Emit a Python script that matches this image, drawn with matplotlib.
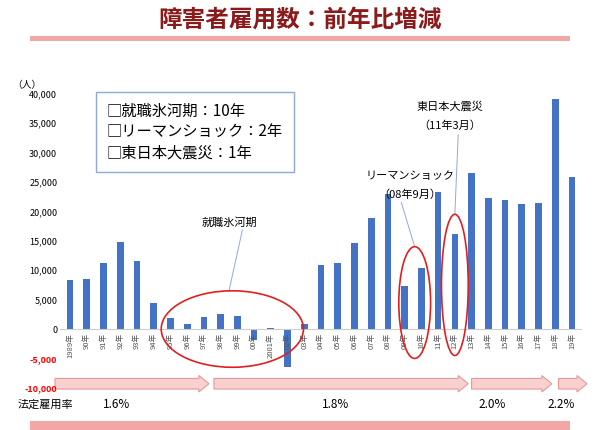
import matplotlib.pyplot as plt
from matplotlib.patches import Ellipse, FancyArrow, Rectangle

plt.rcParams['font.family'] = 'Noto Sans CJK JP'

years = ['1989年', '90年', '91年', '92年', '93年', '94年', '95年', '96年', '97年', '98年',
         '99年', '00年', '2001年', '02年', '03年', '04年', '05年', '06年', '07年', '08年',
         '09年', '10年', '11年', '12年', '13年', '14年', '15年', '16年', '17年', '18年', '19年']
change = [8300, 8500, 11300, 14800, 11500, 4500, 1800, 900, 2100, 2500,
          2200, -1800, 100, -6500, 800, 10900, 11200, 14700, 18900, 22900,
          7300, 10300, 23300, 16200, 26600, 22300, 21900, 21200, 21400, 39100, 25900]
yticks = [-10000, -5000, 0, 5000, 10000, 15000, 20000, 25000, 30000, 35000, 40000]
rates = ['1.6%', '1.8%', '2.0%', '2.2%']

fig = plt.figure(figsize=(6, 4.3), dpi=100)
# title
fig.text(0.5, 0.955, '障害者雇用数：前年比増減', ha='center', va='center',
         fontsize=17, fontweight='bold', color='#8B1A1A')
fig.add_artist(Rectangle((0.05, 0.905), 0.90, 0.012, transform=fig.transFigure,
                         color='#F2A7A7', lw=0))
fig.add_artist(Rectangle((0.05, 0.0), 0.90, 0.02, transform=fig.transFigure,
                         color='#F2A7A7', lw=0))

ax = fig.add_axes([0.10, 0.098, 0.87, 0.684])
x = range(len(years))
ax.bar(x, change, width=0.4, color='#4472C4')
ax.set_xlim(-0.6, len(years) - 0.4)
ax.set_ylim(-10000, 40000)
ax.set_yticks(yticks)
ax.set_yticklabels([f'{v:,}' for v in yticks], fontsize=6.5)
for t, v in zip(ax.get_yticklabels(), yticks):
    if v < 0:
        t.set_color('red')
        t.set_fontweight('bold')
ax.set_xticks([])
for i, lab in enumerate(years):
    ax.text(i, -700, lab, rotation=90, fontsize=5.5, color='#555555',
            ha='center', va='top', zorder=4)
ax.tick_params(length=0, pad=2)
for s in ax.spines.values():
    s.set_visible(False)
ax.axhline(0, color='#cccccc', lw=0.8)
ax.text(-0.035, 1.02, '（人）', transform=ax.transAxes, fontsize=7, ha='right')

# text box
ax.text(2.2, 33500, '□就職氷河期：10年\n□リーマンショック：2年\n□東日本大震災：1年',
        fontsize=11, va='center', linespacing=1.3,
        bbox=dict(boxstyle='square,pad=0.7', fc='white', ec='#8EA9DB', lw=1))

# ellipses and callouts
ax.add_patch(Ellipse((9.7, 0), 8.5, 13000, fill=False, ec='#E02020', lw=1.2, clip_on=False, zorder=5))
ax.add_patch(Ellipse((20.6, 4500), 1.9, 19000, fill=False, ec='#E02020', lw=1.2, clip_on=False, zorder=5))
ax.add_patch(Ellipse((23.0, 7500), 1.6, 24000, fill=False, ec='#E02020', lw=1.2, clip_on=False, zorder=5))
ax.text(9.5, 17500, '就職氷河期', fontsize=8, ha='center')
ax.plot([10.3, 9.5], [16800, 6500], color='#8EA9DB', lw=0.7)
ax.text(20.3, 25500, 'リーマンショック', fontsize=8, ha='center')
ax.text(20.3, 22300, '（08年9月）', fontsize=8, ha='center')
ax.plot([19.8, 20.6], [21500, 14000], color='#8EA9DB', lw=0.7)
ax.text(22.7, 37300, '東日本大震災', fontsize=8, ha='center')
ax.text(22.7, 34000, '（11年3月）', fontsize=8, ha='center')
ax.plot([23.2, 23.0], [33000, 19500], color='#8EA9DB', lw=0.7)

# rate arrows
segs = [(-0.9, 8.3), (8.6, 23.8), (24.0, 28.8), (29.2, 30.9)]
ry = -9300
for (a, b), r in zip(segs, rates):
    ax.add_patch(FancyArrow(a, ry, b - a, 0, width=1800, head_width=2800,
                            head_length=0.6, length_includes_head=True,
                            fc='#F8D0CF', ec='#E59A98', lw=0.8, clip_on=False))
fig.text(0.03, 0.06, '法定雇用率', fontsize=8, va='center')
rate_x = [0.195, 0.56, 0.82, 0.935]
for rx, r in zip(rate_x, rates):
    fig.text(rx, 0.06, r, fontsize=8.5, ha='center', va='center')

fig.savefig('out.png')
